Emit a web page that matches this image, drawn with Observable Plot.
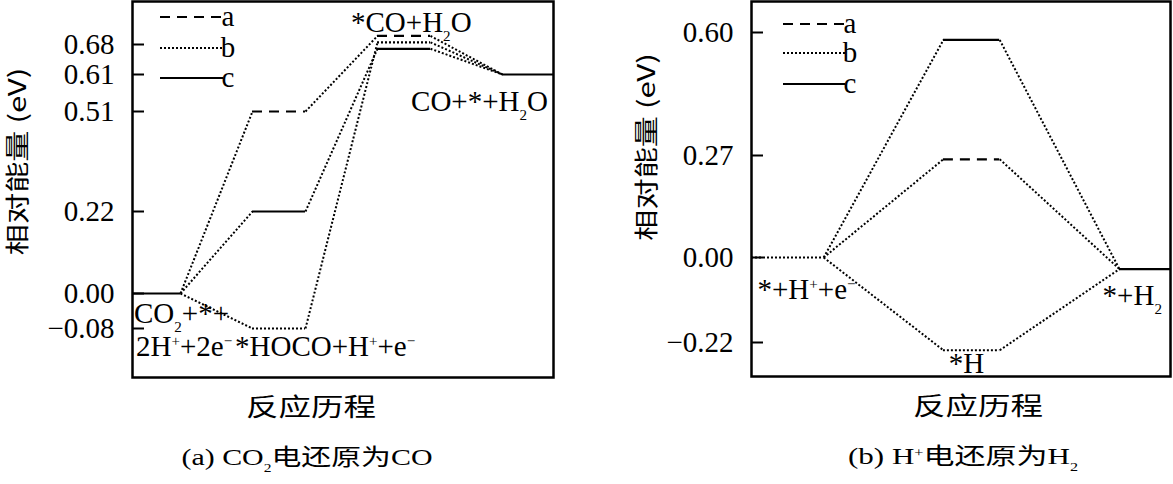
<!DOCTYPE html>
<html><head><meta charset="utf-8">
<script src="https://cdn.jsdelivr.net/npm/d3@7"></script>
<script src="https://cdn.jsdelivr.net/npm/@observablehq/plot@0.6"></script>
<style>
body{margin:0;background:#fff;}
#wrap{display:flex;width:1173px;height:484px;overflow:hidden;}
</style></head><body><div id="wrap"></div>
<script>
// ---------- data ----------
const seriesNames = ["a", "b", "c"];

// (a) CO2 electroreduction to CO
const statesA = ["CO{2}+*+2H[+]+2e[−]", "*HOCO+H[+]+e[−]", "*CO+H{2}O", "CO+*+H{2}O"];
const energyA_a = [0, 0.51, 0.70, 0.61];
const energyA_b = [0, -0.08, 0.685, 0.61];
const energyA_c = [0, 0.22, 0.67, 0.61];
const ticksA = [-0.08, 0, 0.22, 0.51, 0.61, 0.68];
const tickPosA = [328, 293, 211, 111, 74, 44]; // schematic (non-linear) axis placement

// (b) H+ electroreduction to H2
const statesB = ["*+H[+]+e[−]", "*H", "*+H{2}"];
const energyB_a = [0, 0.26, -0.03];
const energyB_b = [0, -0.24, -0.03];
const energyB_c = [0, 0.58, -0.03];
const ticksB = [-0.22, 0, 0.27, 0.60];
const tickPosB = [342, 257, 155, 32];

const yTitle = "相对能量 (eV)";
const xTitle = "反应历程";
const captionA = "(a) CO{2}电还原为CO";
const captionB = "(b) H[+]电还原为H{2}";

// ---------- styles ----------
const SERIF = "'Liberation Serif','Times New Roman',serif";
const CJK = "'Noto Sans CJK SC','Noto Sans',sans-serif";
const MIXED = "'Liberation Serif','Noto Sans CJK SC',serif";
const dashStyle = {a: "10,7", b: "2,2", c: null};
const fmt = d3.format(".2f");

function buildPanel(cfg) {
  const n = cfg.states.length;
  const hw = cfg.halfWidth;
  const energies = {a: cfg.ea, b: cfg.eb, c: cfg.ec};
  const [x0, x1] = cfg.xDomain;
  // piecewise energy axis of the schematic diagram
  const yWarp = d3.scaleLinear().domain(cfg.ticks).range(cfg.tickPos);

  const connectors = [];
  for (const s of seriesNames) {
    const E = energies[s];
    for (let i = 0; i < n - 1; i++) {
      connectors.push({x1: i + hw, y1: E[i], x2: i + 1 - hw, y2: E[i + 1]});
    }
  }
  const levelMarks = [];
  for (const s of seriesNames) {
    const E = energies[s];
    const lv = [];
    for (let i = 1; i < n - 1; i++) lv.push({x1: i - hw, x2: i + hw, e: E[i]});
    levelMarks.push(Plot.ruleY(lv, {y: "e", x1: "x1", x2: "x2", stroke: "black", strokeWidth: 2.2,
      strokeDasharray: dashStyle[s]}));
  }
  levelMarks.push(Plot.ruleY([{x1: x0, x2: hw, e: cfg.ea[0]}], {y: "e", x1: "x1", x2: "x2", stroke: "black",
    strokeWidth: 2.2, strokeDasharray: cfg.firstStyle}));
  levelMarks.push(Plot.ruleY([{x1: n - 1 - hw, x2: x1, e: cfg.ea[n - 1]}], {y: "e", x1: "x1", x2: "x2",
    stroke: "black", strokeWidth: 2.2, strokeDasharray: cfg.lastStyle}));

  const labelMarks = cfg.labels.map(l => Plot.text([l], {
    x: "x", y: "y", text: "t", textAnchor: l.anchor, lineAnchor: "bottom", dx: l.dx, dy: l.dy,
    fontSize: 29, fontFamily: SERIF, fill: "black"
  }));

  const svg = Plot.plot({
    width: cfg.width, height: 484,
    marginLeft: cfg.ml, marginRight: cfg.mr, marginTop: 1, marginBottom: cfg.mb,
    style: {fontFamily: SERIF, fontSize: "29px", background: "white", color: "black", overflow: "visible"},
    x: {domain: cfg.xDomain, axis: null},
    y: {transform: yWarp, domain: [0, 484], range: [0, 484], axis: null},
    marks: [
      Plot.link(connectors, {x1: "x1", y1: "y1", x2: "x2", y2: "y2", stroke: "black", strokeWidth: 2,
        strokeDasharray: "2,2"}),
      ...levelMarks,
      Plot.axisY(cfg.ticks, {anchor: "left", tickSize: 12, dx: 12, fill: "none", stroke: "black",
        strokeWidth: 2, label: null}),
      Plot.axisY(cfg.ticks, {anchor: "left", tickSize: 0, tickPadding: 18, fontSize: 29,
        fontFamily: SERIF, fill: "black", label: null, tickFormat: fmt}),
      Plot.frame({stroke: "black", strokeWidth: 2.5}),
      ...labelMarks,
      Plot.text([yTitle], {frameAnchor: "left", dx: cfg.ytDx, dy: cfg.ytDy, rotate: -90,
        textAnchor: "middle", lineAnchor: "middle", fontSize: 24, fontFamily: CJK, fill: "black"}),
      Plot.text([xTitle], {frameAnchor: "bottom", dx: cfg.xtDx, dy: 30, textAnchor: "middle",
        lineAnchor: "middle", fontSize: 25, fontFamily: CJK, fill: "black"}),
      Plot.text([cfg.caption], {frameAnchor: "bottom", dx: cfg.capDx, dy: 80, textAnchor: "middle",
        lineAnchor: "middle", fontSize: 23, fontFamily: MIXED, fill: "black"})
    ]
  });

  // legend
  const g = d3.select(svg).append("g").attr("aria-label", "legend");
  seriesNames.forEach((s, i) => {
    const y = cfg.legend.y[i];
    g.append("line").attr("x1", cfg.legend.x1).attr("x2", cfg.legend.x2).attr("y1", y).attr("y2", y)
      .attr("stroke", "black").attr("stroke-width", 2).attr("stroke-dasharray", dashStyle[s]);
    g.append("text").attr("x", cfg.legend.x2 + 5).attr("y", y + 9).attr("font-size", 29)
      .attr("font-family", SERIF).attr("fill", "black").text(s);
  });

  stretch(svg, yTitle, 1.3);
  stretch(svg, xTitle, 1.3);
  stretch(svg, cfg.caption, cfg.capScale);
  richText(svg);
  return svg;
}

// widen a text horizontally (along its baseline), matching the reference's wide glyphs
function stretch(svg, content, k) {
  svg.querySelectorAll("text").forEach(t => {
    if (t.textContent !== content) return;
    const tr = t.getAttribute("transform") || "";
    t.setAttribute("transform", tr + ` scale(${k},1)`);
  });
}

function richText(svg) {
  svg.querySelectorAll("text").forEach(t => {
    const s = t.textContent;
    if (!/[{\[]/.test(s)) return;
    const g = t.closest("g");
    const fs = parseFloat(t.getAttribute("font-size") || (g && g.getAttribute("font-size")) || 29);
    const segs = [];
    let mode = "n", buf = "";
    for (const ch of s) {
      if (ch === "{" || ch === "[") { if (buf) segs.push([mode, buf]); buf = ""; mode = ch === "{" ? "sub" : "sup"; }
      else if (ch === "}" || ch === "]") { if (buf) segs.push([mode, buf]); buf = ""; mode = "n"; }
      else buf += ch;
    }
    if (buf) segs.push([mode, buf]);
    while (t.firstChild) t.removeChild(t.firstChild);
    let cur = 0;
    const NS = "http://www.w3.org/2000/svg";
    for (const [m, txt] of segs) {
      const ts = document.createElementNS(NS, "tspan");
      const target = m === "sub" ? 0.32 * fs : m === "sup" ? -0.32 * fs : 0;
      if (target !== cur) ts.setAttribute("dy", target - cur);
      cur = target;
      if (m !== "n") ts.setAttribute("font-size", 0.52 * fs);
      ts.textContent = txt;
      t.appendChild(ts);
    }
  });
}

// ---------- panel (a) ----------
const svgA = buildPanel({
  states: statesA, ea: energyA_a, eb: energyA_b, ec: energyA_c,
  ticks: ticksA, tickPos: tickPosA,
  width: 600, ml: 132, mr: 47, mb: 107,
  xDomain: [-0.172, 3.196], halfWidth: 0.212,
  firstStyle: null, lastStyle: null,
  ytDx: -114, ytDy: -28, xtDx: -32, capDx: -36, capScale: 1.3,
  caption: captionA,
  legend: {x1: 160, x2: 223, y: [17, 48, 78]},
  labels: [
    {t: "*CO+H{2}O", x: 2, y: energyA_a[2], anchor: "start", dx: -53, dy: -4},
    {t: "CO+*+H{2}O", x: 3, y: energyA_a[3], anchor: "end", dx: 19, dy: 36},
    {t: "CO{2}+*+", x: 0, y: energyA_a[0], anchor: "start", dx: -20, dy: 29},
    {t: "2H[+]+2e[−]", x: 0, y: energyA_a[0], anchor: "start", dx: -18, dy: 62},
    {t: "*HOCO+H[+]+e[−]", x: 1, y: energyA_b[1], anchor: "start", dx: -44, dy: 27}
  ]
});

// ---------- panel (b) ----------
const svgB = buildPanel({
  states: statesB, ea: energyB_a, eb: energyB_b, ec: energyB_c,
  ticks: ticksB, tickPos: tickPosB,
  width: 573, ml: 151, mr: 3, mb: 108,
  xDomain: [-0.25, 2.13], halfWidth: 0.16,
  firstStyle: "2,2", lastStyle: null,
  ytDx: -104, ytDy: -42, xtDx: 17, capDx: 2, capScale: 1.35,
  caption: captionB,
  legend: {x1: 183, x2: 245, y: [24, 53, 84]},
  labels: [
    {t: "*+H[+]+e[−]", x: 0, y: energyB_a[0], anchor: "start", dx: -38, dy: 41},
    {t: "*H", x: 1, y: energyB_b[1], anchor: "middle", dx: -5, dy: 23},
    {t: "*+H{2}", x: 2, y: energyB_a[2], anchor: "start", dx: -45, dy: 36}
  ]
});

document.getElementById("wrap").append(svgA, svgB);
</script></body></html>
